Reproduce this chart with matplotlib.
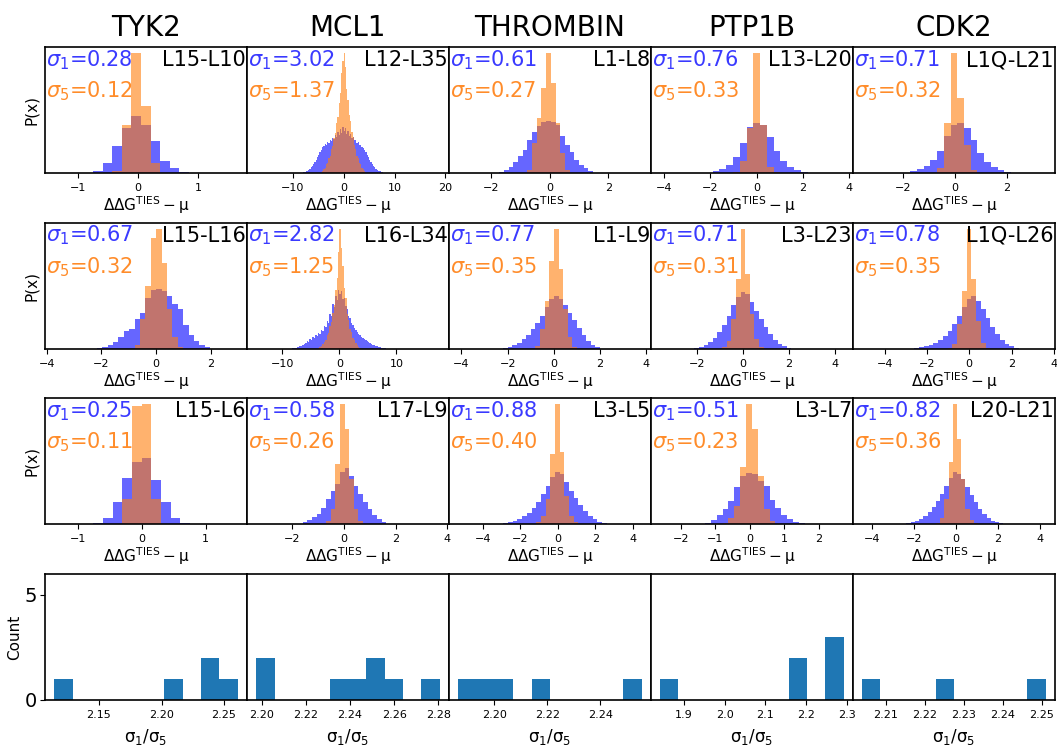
import numpy as np
import matplotlib.pyplot as plt

proteins = ['TYK2', 'MCL1', 'THROMBIN', 'PTP1B', 'CDK2']
edge_names = [['L15-L10', 'L12-L35', 'L1-L8', 'L13-L20', 'L1Q-L21'],
              ['L15-L16', 'L16-L34', 'L1-L9', 'L3-L23', 'L1Q-L26'],
              ['L15-L6', 'L17-L9', 'L3-L5', 'L3-L7', 'L20-L21']]
sigma1 = [[0.28, 3.02, 0.61, 0.76, 0.71],
          [0.67, 2.82, 0.77, 0.71, 0.78],
          [0.25, 0.58, 0.88, 0.51, 0.82]]
sigma5 = [[0.12, 1.37, 0.27, 0.33, 0.32],
          [0.32, 1.25, 0.35, 0.31, 0.35],
          [0.11, 0.26, 0.40, 0.23, 0.36]]

# histograms: (first bin edge, bin width), heights for
# 1-replica (blue) and 5-replica (orange) estimates, arbitrary units
tyk2_a_bins = (-0.75, 0.16)
tyk2_a_s1 = [2, 10, 27, 45, 56, 47, 32, 12, 5, 1]
tyk2_a_s5 = [0, 0, 2, 47, 118, 66, 10, 0, 0, 0]

mcl1_a_bins = (-8.25, 0.25)
mcl1_a_s1 = [0.7, 1, 1.5, 2, 2.5, 3.5, 4.5, 6, 7.5, 9,
             11, 13, 16, 18, 21, 23, 26, 27, 29, 28,
             31, 30, 33, 32, 35, 34, 38, 36, 41, 38,
             44, 40, 46, 42, 45, 39, 42, 37, 39, 35,
             36, 33, 33, 30, 31, 28, 28, 26, 25, 23,
             21, 18, 16, 13, 11, 9, 7.5, 6, 4.5, 3.5,
             2.5, 2, 1.5, 1, 0.7, 0.5]
mcl1_a_s5 = [0] * 16 + [2, 4, 5, 9, 10, 15, 17, 24, 27, 35,
                        40, 50, 56, 70, 80, 100, 112, 120, 106, 84,
                        73, 58, 52, 41, 36, 28, 24, 17, 15, 10,
                        9, 5, 4, 2] + [0] * 16

thrombin_a_bins = (-1.88, 0.16)
thrombin_a_s1 = [0.7, 1.7, 3.3, 6.7, 11, 16.7, 23.3, 32.7, 40.7, 46.7, 50.7,
                 51.7, 50.7, 48, 37.3, 28.3, 20.7, 13.3, 8.3, 5, 2.3, 0.7]
thrombin_a_s5 = [0, 0, 0, 0, 0, 0, 0.7, 3, 30, 55, 85,
                 119, 90, 50, 20, 3, 0, 0, 0, 0, 0, 0]

ptp1b_a_bins = (-2.2, 0.293)
ptp1b_a_s1 = [0.7, 2, 4.3, 8, 16, 30, 46, 50, 48, 36, 22, 12, 6, 3, 1]
ptp1b_a_s5 = [0, 0, 0, 0, 1, 12, 45, 120, 48, 6, 1, 0, 0, 0, 0]

cdk2_a_bins = (-2.0, 0.26)
cdk2_a_s1 = [0.7, 2, 4, 7, 13, 22, 37, 48, 50, 45, 33, 20, 11, 6, 3, 1]
cdk2_a_s5 = [0, 0, 0, 0, 0, 5, 50, 120, 75, 28, 3, 0, 0, 0, 0, 0]

tyk2_b_bins = (-2.17, 0.198)
tyk2_b_s1 = [1, 2, 4, 7, 12, 18, 20, 30, 36, 50, 58,
             59, 57, 52, 44, 40, 24, 14, 8, 4, 2]
tyk2_b_s5 = [0, 0, 0, 0, 0, 0, 0, 4, 30, 62, 110,
             119, 85, 40, 12, 2, 0, 0, 0, 0, 0]

mcl1_b_bins = (-8.25, 0.25)
mcl1_b_s1 = [0.5, 0.7, 1, 1.5, 2, 2.5, 3, 4, 5, 6,
             7.5, 7, 9.5, 9, 11.5, 11, 13.5, 13, 15.5, 15,
             19, 18, 23, 22, 28, 26, 35, 33, 44, 41,
             52, 48, 58, 54, 57, 49, 50, 42, 40, 33,
             31, 26, 24, 21, 19, 17, 15, 13.5, 12, 11,
             10, 9, 8, 7, 6, 5, 4, 3.5, 3, 2.5,
             2, 1.5, 1, 0.7, 0.5, 0.5]
mcl1_b_s5 = [0] * 18 + [1, 2, 3, 5, 7, 9, 14, 16, 23, 27,
                        36, 43, 58, 70, 96, 119, 100, 82, 60, 50,
                        35, 29, 20, 17, 11, 9, 6, 4, 2, 1] + [0] * 18

thrombin_b_bins = (-2.2, 0.2)
thrombin_b_s1 = [1, 2, 3.5, 6, 9.5, 14, 20, 26, 33, 42, 50,
                 53, 50, 44, 36, 29, 21, 14, 8, 4, 2]
thrombin_b_s5 = [0, 0, 0, 0, 0, 0, 0, 3, 20, 48, 88,
                 120, 80, 40, 12, 2, 0, 0, 0, 0, 0]

ptp1b_b_bins = (-2.1, 0.2)
ptp1b_b_s1 = [1, 2, 4, 7, 11, 17, 24, 33, 44, 52, 57,
              55, 47, 38, 30, 22, 15, 9, 5, 2.5, 1]
ptp1b_b_s5 = [0, 0, 0, 0, 0, 0, 2, 8, 30, 70, 120,
              75, 35, 10, 2, 0, 0, 0, 0, 0, 0]

cdk2_b_bins = (-2.6, 0.225)
cdk2_b_s1 = [0.7, 1.5, 2.5, 4, 6, 9, 13, 18, 25, 33, 42,
             50, 53, 48, 40, 31, 22, 15, 9, 5, 2.5, 1]
cdk2_b_s5 = [0, 0, 0, 0, 0, 0, 0, 1, 5, 25, 58,
             120, 70, 28, 6, 1, 0, 0, 0, 0, 0, 0]

tyk2_c_bins = (-0.756, 0.151)
tyk2_c_s1 = [1.3, 6.7, 21.7, 45.7, 61.7, 65.7, 44, 22.3, 6.7, 1]
tyk2_c_s5 = [0, 0, 0.7, 25, 116, 118, 25, 0, 0, 0]

mcl1_c_bins = (-1.6, 0.18)
mcl1_c_s1 = [2, 4, 7, 10, 16, 25, 33, 40, 52, 56, 48, 38, 30, 22, 15, 9, 5, 2]
mcl1_c_s5 = [0, 0, 0, 0, 0, 3, 15, 60, 119, 95, 45, 15, 3, 0, 0, 0, 0, 0]

thrombin_c_bins = (-2.9, 0.25)
thrombin_c_s1 = [1, 2, 3, 5, 8, 11, 16, 22, 30, 38, 47,
                 52, 50, 42, 33, 26, 19, 13, 8, 5, 2.5, 1]
thrombin_c_s5 = [0, 0, 0, 0, 0, 0, 0, 2, 8, 25, 70,
                 119, 72, 28, 8, 2, 0, 0, 0, 0, 0, 0]

ptp1b_c_bins = (-1.3, 0.17)
ptp1b_c_s1 = [1.5, 4, 9, 15, 23, 37, 48, 51, 50, 43, 38, 24, 16, 9, 5, 2.5, 1]
ptp1b_c_s5 = [0, 0, 0, 1, 6, 18, 57, 119, 95, 48, 15, 3, 0, 0, 0, 0, 0]

cdk2_c_bins = (-2.35, 0.2)
cdk2_c_s1 = [1, 2, 3, 5, 8, 12, 17, 23, 30, 38, 46, 52,
             50, 45, 37, 29, 22, 15, 10, 6, 3.5, 2, 1]
cdk2_c_s5 = [0, 0, 0, 0, 0, 0, 0, 1, 6, 25, 62, 120,
             85, 45, 15, 4, 1, 0, 0, 0, 0, 0, 0]

# sigma_1 / sigma_5 ratios per target
ratio_tyk2 = [2.1142, 2.2045, 2.235, 2.240, 2.261]
ratio_mcl1 = [2.1975, 2.200, 2.235, 2.243, 2.250, 2.252, 2.259, 2.2806]
ratio_thrombin = [2.1864, 2.197, 2.204, 2.218, 2.2556]
ratio_ptp1b = [1.842, 2.17, 2.19, 2.26, 2.275, 2.2926]
ratio_cdk2 = [2.2039, 2.225, 2.2510]

panels = [
    [(tyk2_a_bins, tyk2_a_s1, tyk2_a_s5), (mcl1_a_bins, mcl1_a_s1, mcl1_a_s5),
     (thrombin_a_bins, thrombin_a_s1, thrombin_a_s5), (ptp1b_a_bins, ptp1b_a_s1, ptp1b_a_s5),
     (cdk2_a_bins, cdk2_a_s1, cdk2_a_s5)],
    [(tyk2_b_bins, tyk2_b_s1, tyk2_b_s5), (mcl1_b_bins, mcl1_b_s1, mcl1_b_s5),
     (thrombin_b_bins, thrombin_b_s1, thrombin_b_s5), (ptp1b_b_bins, ptp1b_b_s1, ptp1b_b_s5),
     (cdk2_b_bins, cdk2_b_s1, cdk2_b_s5)],
    [(tyk2_c_bins, tyk2_c_s1, tyk2_c_s5), (mcl1_c_bins, mcl1_c_s1, mcl1_c_s5),
     (thrombin_c_bins, thrombin_c_s1, thrombin_c_s5), (ptp1b_c_bins, ptp1b_c_s1, ptp1b_c_s5),
     (cdk2_c_bins, cdk2_c_s1, cdk2_c_s5)],
]
ratios = [ratio_tyk2, ratio_mcl1, ratio_thrombin, ratio_ptp1b, ratio_cdk2]

xlims = [[(-1.55, 1.82), (-19.0, 20.7), (-3.44, 3.46), (-4.57, 4.15), (-3.95, 3.85)],
         [(-4.06, 3.33), (-16.2, 19.2), (-4.54, 4.2), (-3.98, 4.76), (-5.5, 4.05)],
         [(-1.51, 1.645), (-3.76, 4.07), (-5.8, 4.96), (-2.86, 2.98), (-4.89, 4.69)]]

fig, axes = plt.subplots(4, 5, figsize=(10.57, 7.5), dpi=100,
                         gridspec_kw=dict(left=0.0426, right=0.998, top=0.937,
                                          bottom=0.0667, wspace=0, hspace=0.393))

for r in range(3):
    for c in range(5):
        ax = axes[r, c]
        (x0, dx), h1, h5 = panels[r][c]
        edges = x0 + dx * np.arange(len(h1) + 1)
        mids = 0.5 * (edges[:-1] + edges[1:])
        ax.hist(mids, bins=edges, weights=h1, color='blue', alpha=0.6)
        ax.hist(mids, bins=edges, weights=h5, color='tab:orange', alpha=0.6)
        ax.set_xlim(*xlims[r][c])
        ax.set_yticks([])
        ax.tick_params(axis='x', labelsize=8)
        ax.set_xlabel(r'$\mathrm{\Delta\Delta G^{TIES} - \mu}$', fontsize=11, labelpad=1)
        ax.text(0.005, 0.85, r'$\sigma_1$=%.2f' % sigma1[r][c], transform=ax.transAxes,
                fontsize=15, color='#3a3aff', va='baseline', ha='left')
        ax.text(0.005, 0.60, r'$\sigma_5$=%.2f' % sigma5[r][c], transform=ax.transAxes,
                fontsize=15, color='#ff8c2a', va='baseline', ha='left')
        ax.text(0.995, 0.85, edge_names[r][c], transform=ax.transAxes,
                fontsize=15, color='black', va='baseline', ha='right')
        for s in ax.spines.values():
            s.set_linewidth(1.2)
        if c == 0:
            ax.set_ylabel('P(x)', fontsize=11)
        if r == 0:
            ax.set_title(proteins[c], fontsize=20, pad=8)

for c in range(5):
    ax = axes[3, c]
    ax.hist(ratios[c], bins=10, color='tab:blue')
    ax.set_ylim(0, 6)
    ax.tick_params(axis='x', labelsize=8)
    ax.set_xlabel(r'$\mathrm{\sigma_1/\sigma_5}$', fontsize=12, labelpad=5)
    for s in ax.spines.values():
        s.set_linewidth(1.2)
    if c == 0:
        ax.set_yticks([0, 5])
        ax.tick_params(axis='y', labelsize=14, pad=2)
        ax.set_ylabel('Count', fontsize=11, labelpad=2)
    else:
        ax.set_yticks([])

fig.savefig('out.png', dpi=100)
